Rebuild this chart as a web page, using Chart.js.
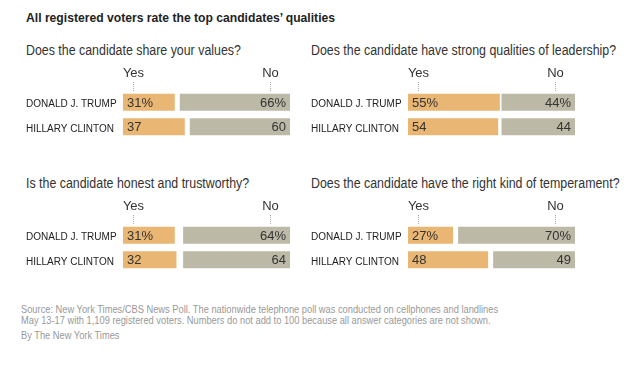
<!DOCTYPE html>
<html><head><meta charset="utf-8">
<script src="https://cdn.jsdelivr.net/npm/chart.js@4"></script>
<style>
body{margin:0;background:#fff;width:644px;height:367px;position:relative;overflow:hidden;font-family:"Liberation Sans",Arial,sans-serif;color:#333}
.abs{position:absolute;white-space:nowrap;transform-origin:0 0}
#head{left:26px;top:10px;font-weight:bold;font-size:13px;line-height:16px;color:#222;transform:scaleX(0.934)}
.q{font-size:14px;line-height:16px;color:#333;transform:scaleX(0.885)}
.src{left:21px;font-size:11.5px;line-height:11px;color:#999;transform:scaleX(0.808)}
.cv{position:absolute;width:264px;height:85px}
</style></head><body>
<div class="abs" id="head">All registered voters rate the top candidates’ qualities</div>
<div class="abs q" id="q0" style="left:26px;top:42px"></div>
<div class="abs q" id="q1" style="left:311px;top:42px"></div>
<div class="abs q" id="q2" style="left:26px;top:175px"></div>
<div class="abs q" id="q3" style="left:311px;top:175px"></div>
<div class="cv" style="left:26px;top:60px"><canvas id="c0"></canvas></div>
<div class="cv" style="left:311px;top:60px"><canvas id="c1"></canvas></div>
<div class="cv" style="left:26px;top:193px"><canvas id="c2"></canvas></div>
<div class="cv" style="left:311px;top:193px"><canvas id="c3"></canvas></div>
<div class="abs src" style="top:304px">Source: New York Times/CBS News Poll. The nationwide telephone poll was conducted on cellphones and landlines<br>May 13-17 with 1,109 registered voters. Numbers do not add to 100 because all answer categories are not shown.</div>
<div class="abs src" style="top:330px">By The New York Times</div>
<script>
const candidates = ["DONALD J. TRUMP", "HILLARY CLINTON"];
const questions = [
  "Does the candidate share your values?",
  "Does the candidate have strong qualities of leadership?",
  "Is the candidate honest and trustworthy?",
  "Does the candidate have the right kind of temperament?"
];
const answerLabels = ["Yes", "No"];
const valuesYes = [31, 37];
const valuesNo = [66, 60];
const leadershipYes = [55, 54];
const leadershipNo = [44, 44];
const honestYes = [31, 32];
const honestNo = [64, 64];
const temperamentYes = [27, 48];
const temperamentNo = [70, 49];

const panels = [
  [valuesYes, valuesNo],
  [leadershipYes, leadershipNo],
  [honestYes, honestNo],
  [temperamentYes, temperamentNo]
];

const FONT = '"Liberation Sans", Arial, sans-serif';

const headerPlugin = {
  id: 'yesNoHeader',
  afterDraw(chart) {
    const ctx = chart.ctx, x = chart.scales.x, top = chart.chartArea.top;
    const pos = [6, 88];
    ctx.save();
    pos.forEach((p, i) => {
      const px = Math.round(x.getPixelForValue(p)) + 0.5;
      ctx.fillStyle = '#333';
      ctx.font = '13px ' + FONT;
      ctx.textAlign = 'center';
      ctx.textBaseline = 'middle';
      ctx.fillText(answerLabels[i], px, top - 17);
      ctx.strokeStyle = '#aaa';
      ctx.lineWidth = 1;
      ctx.setLineDash([1, 1]);
      ctx.beginPath();
      ctx.moveTo(px, top - 8);
      ctx.lineTo(px, top + 1);
      ctx.stroke();
    });
    ctx.restore();
  }
};

const labelPlugin = {
  id: 'barLabels',
  afterDatasetsDraw(chart) {
    const ctx = chart.ctx;
    ctx.save();
    ctx.font = '13px ' + FONT;
    ctx.fillStyle = '#333';
    ctx.textBaseline = 'middle';
    chart.data.datasets.forEach((ds, di) => {
      const meta = chart.getDatasetMeta(di);
      meta.data.forEach((el, i) => {
        const v = ds.raw[i];
        const txt = v + (i === 0 ? '%' : '');
        if (di === 0) {
          ctx.textAlign = 'left';
          ctx.fillText(txt, Math.min(el.x, el.base) + 4, el.y + 1);
        } else {
          ctx.textAlign = 'right';
          ctx.fillText(txt, Math.max(el.x, el.base) - 4, el.y + 1);
        }
      });
    });
    ctx.restore();
  }
};

panels.forEach((pair, k) => {
  document.getElementById('q' + k).textContent = questions[k];
  const [yes, no] = pair;
  new Chart(document.getElementById('c' + k), {
    type: 'bar',
    data: {
      labels: candidates,
      datasets: [
        { raw: yes, data: yes.map(v => [0, v]), backgroundColor: '#e9b673', grouped: false,
          barPercentage: 0.7, categoryPercentage: 1 },
        { raw: no, data: no.map(v => [100 - v, 100]), backgroundColor: '#bdb9a7', grouped: false,
          barPercentage: 0.7, categoryPercentage: 1 }
      ]
    },
    options: {
      indexAxis: 'y',
      responsive: true,
      maintainAspectRatio: false,
      animation: false,
      layout: { padding: { top: 30, bottom: 5, left: 0, right: 0 } },
      plugins: { legend: { display: false }, tooltip: { enabled: false } },
      scales: {
        x: { display: false, min: 0, max: 100 },
        y: {
          grid: { display: false },
          border: { display: false },
          ticks: { crossAlign: 'far', padding: 0, labelOffset: 2, color: '#222', font: { family: FONT, size: 10 } },
          afterFit(s) { s.width = 97; }
        }
      }
    },
    plugins: [headerPlugin, labelPlugin]
  });
});
</script>
</body></html>
